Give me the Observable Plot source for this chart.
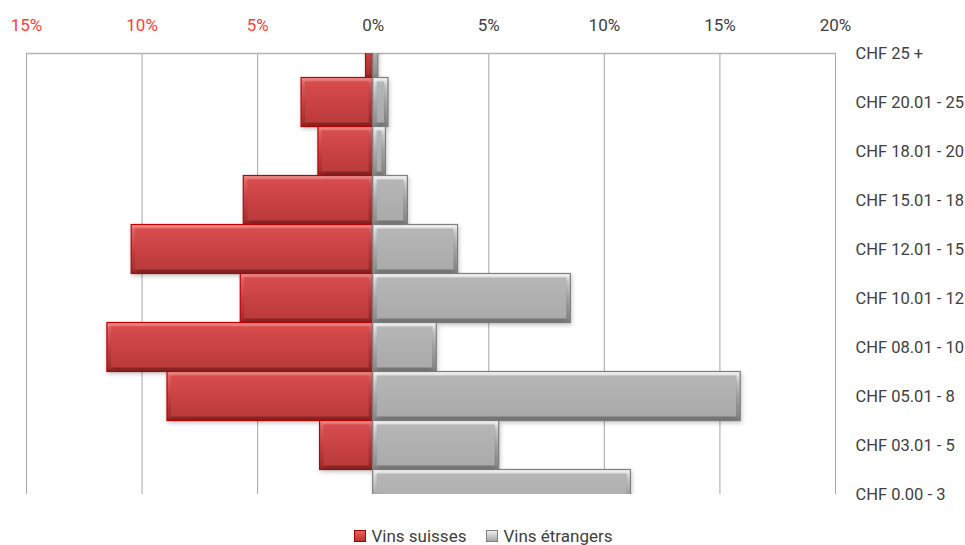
<!DOCTYPE html>
<html>
<head>
<meta charset="utf-8">
<script src="https://cdn.jsdelivr.net/npm/d3@7"></script>
<script src="https://cdn.jsdelivr.net/npm/@observablehq/plot@0.6"></script>
<style>
  html, body { margin: 0; padding: 0; background: #fff; }
  body { width: 965px; height: 545px; overflow: hidden; font-family: "Roboto", sans-serif; }
  #chart svg { display: block; }
  #legend { display: flex; justify-content: center; align-items: center; gap: 20px; font-size: 17px; line-height: 18px; color: #404040; height: 18px; margin-top: 6px; padding-left: 2px; }
  #legend .item { display: flex; align-items: center; gap: 5px; }
  #legend .sw { width: 12px; height: 12px; box-sizing: border-box; }
</style>
</head>
<body>
<div id="chart"></div>
<div id="legend"></div>
<script>
const categories = ["CHF 25 +","CHF 20.01 - 25","CHF 18.01 - 20","CHF 15.01 - 18","CHF 12.01 - 15","CHF 10.01 - 12","CHF 08.01 - 10","CHF 05.01 - 8","CHF 03.01 - 5","CHF 0.00 - 3"];
const swiss   = [0.31, 3.1, 2.37, 5.6, 10.45, 5.73, 11.5, 8.9, 2.3, 0];
const foreign = [0.22, 0.66, 0.55, 1.5, 3.67, 8.55, 2.75, 15.9, 5.45, 11.15];
const tickValues = [-15, -10, -5, 0, 5, 10, 15, 20];
const seriesNames = ["Vins suisses", "Vins étrangers"];

const swissData = categories.map((c, i) => ({i, v: -swiss[i]}));
const foreignData = categories.map((c, i) => ({i, v: foreign[i]}));
const big = d => Math.abs(d.v) > 0.5;

const plot = Plot.plot({
  width: 965,
  height: 521,
  marginLeft: 26,
  marginRight: 130,
  marginTop: 53,
  marginBottom: 27,
  style: {fontFamily: '"Roboto", sans-serif', fontSize: "16px", background: "#fff"},
  x: {domain: [-15, 20], axis: null},
  y: {type: "linear", domain: [0, categories.length - 1], reverse: true, axis: null},
  marks: [
    Plot.ruleX(tickValues, {stroke: "#a6a6a6", strokeWidth: 1}),
    Plot.frame({anchor: "top", stroke: "#b4b4b4", strokeWidth: 1.5}),
    Plot.rectX(swissData, {x1: 0, x2: "v", y1: d => d.i - 0.5, y2: d => d.i + 0.5, fill: "url(#gradRed)", stroke: "#c00000", strokeWidth: 1.2, clip: true}),
    Plot.rectX(swissData.filter(big), {x1: 0, x2: "v", y1: d => d.i - 0.5, y2: d => d.i + 0.5, inset: 4, fill: "url(#gradRedIn)", clip: true}),
    Plot.rectX(foreignData, {x1: 0, x2: "v", y1: d => d.i - 0.5, y2: d => d.i + 0.5, fill: "url(#gradGrey)", stroke: "#7f7f7f", strokeWidth: 1.2, clip: true}),
    Plot.rectX(foreignData.filter(big), {x1: 0, x2: "v", y1: d => d.i - 0.5, y2: d => d.i + 0.5, inset: 4, fill: "url(#gradGreyIn)", clip: true}),
    Plot.text(tickValues, {x: d => d, frameAnchor: "top", lineAnchor: "middle", dy: -28, fontSize: 17, text: d => Math.abs(d) + "%", fill: d => d < 0 ? "#ff3b3b" : "#404040"}),
    Plot.axisY({anchor: "right", ticks: d3.range(categories.length), tickFormat: i => categories[i], tickSize: 0, tickPadding: 20, label: null, color: "#404040", fontSize: 16.5})
  ]
});

const svg = d3.select(plot);
const defs = svg.insert("defs", ":first-child");
function grad(id, stops) {
  const g = defs.append("linearGradient").attr("id", id).attr("x1", 0).attr("y1", 0).attr("x2", 0).attr("y2", 1);
  stops.forEach(([o, c]) => g.append("stop").attr("offset", o).attr("stop-color", c));
}
grad("gradRed", [["0", "#f29494"], ["0.1", "#e26666"], ["0.5", "#cd4242"], ["0.9", "#a83232"], ["1", "#8a2222"]]);
grad("gradRedIn", [["0", "#d84c4c"], ["1", "#bb3a3a"]]);
grad("gradGrey", [["0", "#f7f7f7"], ["0.1", "#e0e0e0"], ["0.5", "#b0b0b0"], ["0.9", "#929292"], ["1", "#7a7a7a"]]);
grad("gradGreyIn", [["0", "#b6b6b6"], ["1", "#aaaaaa"]]);
svg.selectAll('g[aria-label="rect"]').style("filter", "drop-shadow(1px 2px 2px rgba(0,0,0,0.22))");

document.getElementById("chart").appendChild(plot);

const legend = document.getElementById("legend");
const swStyles = [
  "background: linear-gradient(#e86060, #c23030); border: 1px solid #a00000;",
  "background: linear-gradient(#eeeeee, #a8a8a8); border: 1px solid #808080;"
];
seriesNames.forEach((name, k) => {
  const item = document.createElement("div");
  item.className = "item";
  item.innerHTML = `<span class="sw" style="${swStyles[k]}"></span><span>${name}</span>`;
  legend.appendChild(item);
});
</script>
</body>
</html>
